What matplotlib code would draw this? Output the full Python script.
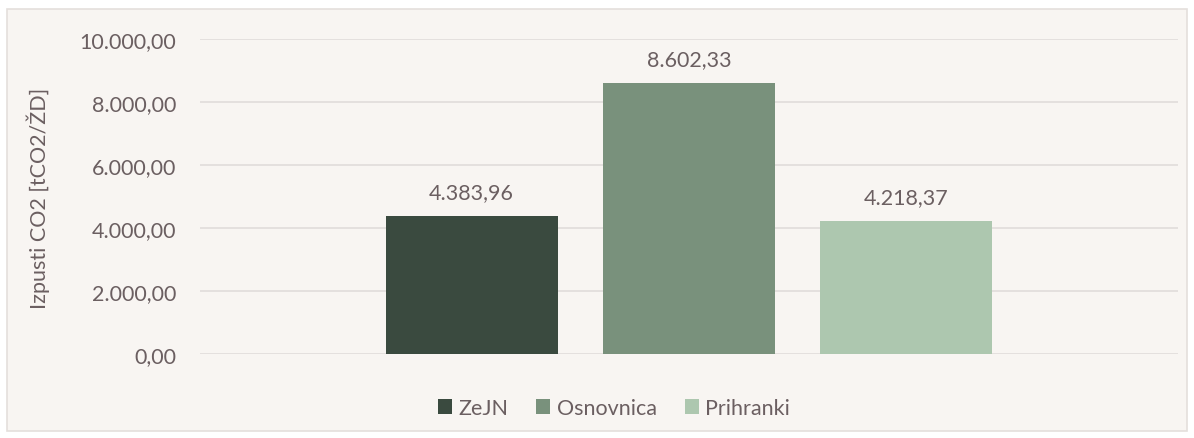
import matplotlib
matplotlib.use("Agg", force=True)

import matplotlib.pyplot as plt
from matplotlib.patches import Patch, Rectangle
from matplotlib.ticker import FuncFormatter

series = ["ZeJN", "Osnovnica", "Prihranki"]
values = [4383.96, 8602.33, 4218.37]
colors = ["#3A4A3F", "#79917C", "#ADC7AF"]
y_ticks = [0, 2000, 4000, 6000, 8000, 10000]

BG = "#F8F5F2"
TEXT = "#6B5F61"
GRID = "#E1DCDB"
FS = 15.5


def sl_format(v, _pos=None):
    s = f"{v:,.2f}"
    return s.replace(",", "X").replace(".", ",").replace("X", ".")


plt.rcParams["font.family"] = ["Lato", "DejaVu Sans"]

fig = plt.figure(figsize=(11.94, 4.39), dpi=100, facecolor="white")
frame = Rectangle((7 / 1194, 7 / 439), 1180 / 1194, 422 / 439,
                  transform=fig.transFigure, facecolor=BG,
                  edgecolor="#E4DFDC", linewidth=1.2, zorder=-10)
fig.add_artist(frame)

ax = fig.add_axes([200 / 1194, 1 - 355 / 439, 978 / 1194, 315 / 439])
ax.set_facecolor("none")
ax.set_zorder(1)

positions = [-1, 0, 1]
bars = ax.bar(positions, values, width=0.79, color=colors, zorder=3)
for b, v in zip(bars, values):
    ax.annotate(sl_format(v), (b.get_x() + b.get_width() / 2, v),
                xytext=(0, 17), textcoords="offset points",
                ha="center", va="center", fontsize=FS, color=TEXT)

ax.set_xlim(-2.25, 2.25)
ax.set_ylim(0, 10000)
ax.set_yticks(y_ticks)
ax.yaxis.set_major_formatter(FuncFormatter(sl_format))
ax.set_xticks([])
ax.tick_params(axis="y", length=0, pad=17, labelsize=FS, labelcolor=TEXT)
ax.grid(axis="y", color=GRID, linewidth=1.2, zorder=0)
for s in ax.spines.values():
    s.set_visible(False)

fig.text(38 / 1194, 1 - 198 / 439, "Izpusti CO2 [tCO2/ŽD]", rotation=90,
         ha="center", va="center", fontsize=FS, color=TEXT)

handles = [Patch(facecolor=c, edgecolor="none") for c in colors]
fig.legend(handles, series, loc="center", bbox_to_anchor=(614 / 1194, 1 - 409 / 439),
           ncol=3, frameon=False, fontsize=FS, labelcolor=TEXT,
           handlelength=0.65, handleheight=0.65, handletextpad=0.3, columnspacing=1.3)

fig.savefig("out.png", dpi=100, facecolor="white")
